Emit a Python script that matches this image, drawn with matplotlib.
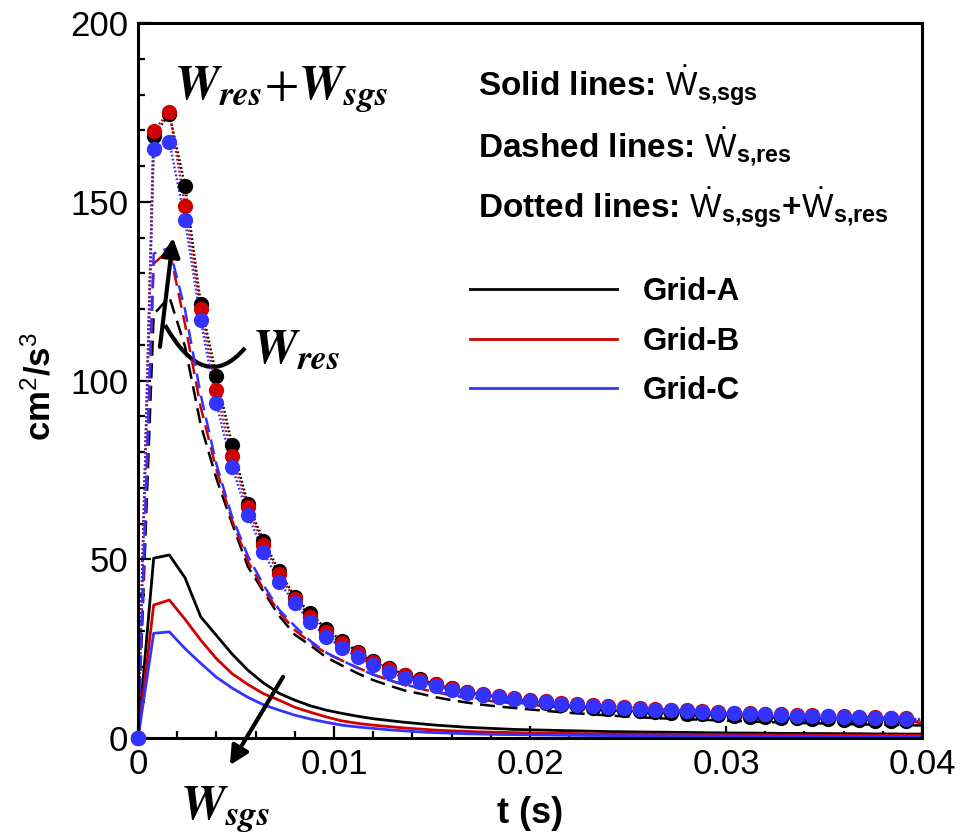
import numpy as np
import matplotlib
matplotlib.use("Agg")
import matplotlib.pyplot as plt
from matplotlib.lines import Line2D
from matplotlib.patches import PathPatch
from matplotlib.path import Path
from matplotlib.ticker import MultipleLocator

plt.rcParams['font.family'] = 'Liberation Sans'
plt.rcParams['mathtext.fontset'] = 'custom'
plt.rcParams['mathtext.rm'] = 'Liberation Sans'
plt.rcParams['mathtext.bf'] = 'Liberation Sans:bold'
plt.rcParams['mathtext.it'] = 'Liberation Sans:italic'

# time grid: one sample every 0.0008 s (same spacing as the markers)
t = np.linspace(0, 0.04, 51)

# W_sgs (solid lines)
sgs_A = [0, 50.3, 51.2, 44.8, 33.9, 28.7, 23.5, 19.0, 15.4, 12.5, 10.6, 9.0, 7.8, 6.9, 6.1, 5.4,
         4.9, 4.4, 4.0, 3.6, 3.3, 3.0, 2.8, 2.6, 2.4, 2.3, 2.2, 2.1, 2.0, 1.9, 1.8, 1.75, 1.7,
         1.65, 1.6, 1.55, 1.5, 1.45, 1.4, 1.4, 1.35, 1.3, 1.3, 1.25, 1.25, 1.2, 1.2, 1.15, 1.15, 1.1, 1.1]
sgs_B = [0, 37.2, 38.6, 33.2, 27.4, 22.2, 18.0, 15.0, 12.4, 10.6, 8.6, 7.2, 5.9, 4.8, 4.1, 3.6,
         3.2, 2.8, 2.5, 2.2, 2.0, 1.85, 1.7, 1.6, 1.5, 1.4, 1.35, 1.3, 1.25, 1.2, 1.15, 1.1, 1.1,
         1.05, 1.0, 1.0, 0.95, 0.95, 0.9, 0.9, 0.9, 0.85, 0.85, 0.85, 0.8, 0.8, 0.8, 0.8, 0.75, 0.75, 0.75]
sgs_C = [0, 29.3, 29.7, 25.0, 20.9, 17.0, 14.0, 11.4, 9.3, 7.8, 6.4, 5.3, 4.4, 3.6, 3.1, 2.7,
         2.3, 2.0, 1.7, 1.5, 1.35, 1.2, 1.1, 1.0, 0.95, 0.9, 0.85, 0.8, 0.75, 0.7, 0.7, 0.65, 0.65,
         0.6, 0.6, 0.6, 0.55, 0.55, 0.55, 0.5, 0.5, 0.5, 0.5, 0.5, 0.45, 0.45, 0.45, 0.45, 0.45, 0.4, 0.4]

# W_res (dashed lines)
res_A = [0, 118.5, 123.4, 109.5, 87.6, 72.6, 60.0, 48.0, 41.0, 34.2, 28.9, 25.9, 22.6, 20.3, 18.1, 16.2,
         14.7, 13.3, 12.4, 11.4, 10.6, 9.9, 9.3, 8.8, 8.4, 8.0, 7.6, 7.2, 6.9, 6.6, 6.3, 6.05, 5.8,
         5.55, 5.4, 5.25, 5.1, 4.95, 4.8, 4.6, 4.45, 4.4, 4.2, 4.15, 4.05, 3.9, 3.8, 3.75, 3.65, 3.6, 3.5]
res_B = [0, 132.7, 136.6, 115.7, 92.5, 75.1, 60.9, 49.5, 41.6, 35.3, 30.2, 26.7, 23.7, 21.7, 19.7, 17.8,
         16.2, 14.8, 13.8, 12.8, 11.9, 11.15, 10.6, 10.1, 9.7, 9.3, 8.95, 8.6, 8.25, 8.0, 7.75, 7.5, 7.2,
         7.05, 6.9, 6.7, 6.55, 6.35, 6.2, 6.0, 5.9, 5.75, 5.65, 5.55, 5.5, 5.3, 5.2, 5.0, 4.95, 4.85, 4.15]
res_C = [0, 135.5, 137.1, 119.8, 96.0, 76.6, 61.9, 51.0, 42.8, 35.9, 31.3, 27.1, 23.9, 21.7, 19.6, 17.7,
         16.2, 14.9, 14.0, 13.0, 12.15, 11.5, 10.9, 10.4, 9.95, 9.5, 9.15, 8.8, 8.45, 8.2, 7.9, 7.65, 7.45,
         7.3, 7.1, 6.9, 6.75, 6.55, 6.35, 6.2, 6.1, 5.9, 5.8, 5.7, 5.65, 5.55, 5.35, 5.15, 5.05, 5.0, 4.9]

# W_sgs + W_res (dotted lines with dots)
tot_A = [0, 168.5, 174.6, 154.5, 121.5, 101.3, 82.0, 65.6, 55.2, 46.7, 39.5, 34.9, 30.4, 27.2, 24.2, 21.6,
         19.6, 17.7, 16.4, 15.0, 13.9, 12.9, 12.1, 11.4, 10.8, 10.3, 9.8, 9.3, 8.9, 8.5, 8.1, 7.8, 7.5,
         7.2, 7.0, 6.8, 6.6, 6.4, 6.2, 6.0, 5.8, 5.7, 5.5, 5.4, 5.3, 5.1, 5.0, 4.9, 4.8, 4.7, 4.6]
tot_B = [0, 169.9, 175.2, 148.9, 119.9, 97.3, 78.9, 64.5, 54.0, 45.9, 38.8, 33.9, 29.6, 26.5, 23.8, 21.4,
         19.4, 17.6, 16.3, 15.0, 13.9, 13.0, 12.3, 11.7, 11.2, 10.7, 10.3, 9.9, 9.5, 9.2, 8.9, 8.6, 8.3,
         8.1, 7.9, 7.7, 7.5, 7.3, 7.1, 6.9, 6.8, 6.6, 6.5, 6.4, 6.3, 6.1, 6.0, 5.8, 5.7, 5.6, 4.9]
tot_C = [0, 164.8, 166.8, 144.8, 116.9, 93.6, 75.9, 62.4, 52.1, 43.7, 37.7, 32.4, 28.3, 25.3, 22.7, 20.4,
         18.5, 16.9, 15.7, 14.5, 13.5, 12.7, 12.0, 11.4, 10.9, 10.4, 10.0, 9.6, 9.2, 8.9, 8.6, 8.3, 8.1,
         7.9, 7.7, 7.5, 7.3, 7.1, 6.9, 6.7, 6.6, 6.4, 6.3, 6.2, 6.1, 6.0, 5.8, 5.6, 5.5, 5.4, 5.3]

grids = ["Grid-A", "Grid-B", "Grid-C"]
colors = ["black", "#d00000", "#3333ff"]
x_ticks = [0, 0.01, 0.02, 0.03, 0.04]
x_ticklabels = ["0", "0.01", "0.02", "0.03", "0.04"]
y_ticks = [0, 50, 100, 150, 200]

fig = plt.figure(figsize=(9.61, 8.4), dpi=100)
ax = fig.add_axes([0.1436, 0.1214, 0.8158, 0.8512])

sgs = [sgs_A, sgs_B, sgs_C]
res = [res_A, res_B, res_C]
tot = [tot_A, tot_B, tot_C]

for s, r, w, c in zip(sgs, res, tot, colors):
    ax.plot(t, s, color=c, lw=2.0)
    ax.plot(t, r, color=c, lw=1.8, ls=(0, (6, 3)))
    ax.plot(t, w, color=c, lw=1.8, ls=(0, (0.7, 0.9)))

# dots on top, last sample (t=0.04) has no marker
for w, c in zip(tot, colors):
    ax.plot(t[:50], w[:50], ls="none", marker="o", ms=11, color=c, mec="none",
            clip_on=False, zorder=3)

ax.set_xlim(0, 0.04)
ax.set_ylim(0, 200)
ax.set_xticks(x_ticks)
ax.set_xticklabels(x_ticklabels)
ax.set_yticks(y_ticks)
ax.xaxis.set_minor_locator(MultipleLocator(0.002))
ax.yaxis.set_minor_locator(MultipleLocator(10))
ax.tick_params(which="both", direction="in", labelsize=25, width=1.6)
ax.tick_params(which="major", length=9, pad=7)
ax.tick_params(which="minor", length=5)
for sp in ax.spines.values():
    sp.set_linewidth(2.2)

ax.set_xlabel("t (s)", fontsize=26, fontweight="bold", labelpad=11)
ax.set_ylabel(r"cm$^{\mathrm{2}}$/s$^{\mathrm{3}}$", fontsize=25, fontweight="bold")
ax.yaxis.set_label_coords(-0.103, 0.492)

# text block
kw = dict(transform=ax.transAxes, fontsize=24, fontweight="bold", ha="left", va="baseline")
ax.text(0.434, 0.899, r"Solid lines: $\dot{\mathrm{W}}_{\mathbf{s{,}sgs}}$", **kw)
ax.text(0.434, 0.8126, r"Dashed lines: $\dot{\mathrm{W}}_{\mathbf{s{,}res}}$", **kw)
ax.text(0.434, 0.7273, r"Dotted lines: $\dot{\mathrm{W}}_{\mathbf{s{,}sgs}}$+$\dot{\mathrm{W}}_{\mathbf{s{,}res}}$", **kw)

handles = [Line2D([], [], color=c, lw=2.0) for c in colors]
ax.legend(handles, grids, loc="upper left", bbox_to_anchor=(0.4235, 0.645), frameon=False,
          prop={"size": 22.5, "weight": "bold"}, handlelength=4.7, handletextpad=0.84,
          labelspacing=0.63, borderpad=0, borderaxespad=0)

# annotations (Times bold italic)
tk = dict(math_fontfamily="stix", fontsize=36, ha="left", va="baseline")
ax.text(0.00182, 178.5, r"$\mathbfit{W}_{\mathbfit{res}}{+}\mathbfit{W}_{\mathbfit{sgs}}$", **tk)
ax.text(0.00582, 105.2, r"$\mathbfit{W}_{\mathbfit{res}}$", **tk)
ax.text(0.00214, -22.9, r"$\mathbfit{W}_{\mathbfit{sgs}}$", clip_on=False, **tk)

# hook + arrow towards the total curves
hook = Path([(0.00546, 109.1), (0.00342, 95.9), (0.00138, 115.5)],
            [Path.MOVETO, Path.CURVE3, Path.CURVE3])
ax.add_patch(PathPatch(hook, fc="none", ec="black", lw=3))
ax.annotate("", xy=(0.00179, 139.9), xytext=(0.00112, 109.4),
            arrowprops=dict(arrowstyle="-|>", lw=3, color="black", mutation_scale=28,
                            shrinkA=0, shrinkB=0))
ax.annotate("", xy=(0.00469, -7.6), xytext=(0.0074, 17.1), annotation_clip=False,
            arrowprops=dict(arrowstyle="-|>", lw=3, color="black", mutation_scale=28,
                            shrinkA=0, shrinkB=0))

fig.savefig("out.png", dpi=100)
